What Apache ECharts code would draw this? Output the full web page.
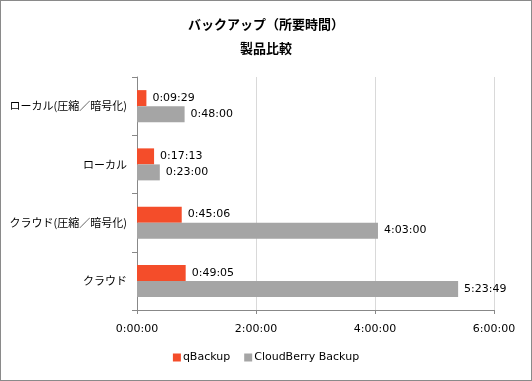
<!DOCTYPE html>
<html>
<head>
<meta charset="utf-8">
<script src="https://cdn.jsdelivr.net/npm/echarts@6/dist/echarts.min.js"></script>
<style>
  html, body { margin: 0; padding: 0; background: #fff; }
  #chart { width: 532px; height: 381px; box-sizing: border-box; border: 1px solid #8a8a8a; }
</style>
</head>
<body>
<div id="chart"></div>
<script>
// categories top to bottom
var categories = ['ローカル(圧縮／暗号化)', 'ローカル', 'クラウド(圧縮／暗号化)', 'クラウド'];
// durations in seconds
var qBackup = [569, 1033, 2706, 2945];          // 0:09:29, 0:17:13, 0:45:06, 0:49:05
var cloudBerry = [2880, 1380, 14580, 19429];    // 0:48:00, 0:23:00, 4:03:00, 5:23:49
var seriesNames = ['qBackup', 'CloudBerry Backup'];

function fmt(sec) {
  var h = Math.floor(sec / 3600);
  var m = Math.floor((sec % 3600) / 60);
  var s = Math.round(sec % 60);
  return h + ':' + (m < 10 ? '0' : '') + m + ':' + (s < 10 ? '0' : '') + s;
}

var jp = '"Noto Sans CJK JP", "DejaVu Sans", sans-serif';
var num = '"DejaVu Sans", Verdana, sans-serif';

var myChart = echarts.init(document.getElementById('chart'), null, { renderer: 'canvas' });

var option = {
  animation: false,
  title: [
    { text: 'バックアップ（所要時間）', left: 'center', top: 12,
      textStyle: { fontFamily: jp, fontSize: 13, fontWeight: 'bold', color: '#000' } },
    { text: '製品比較', left: 'center', top: 36,
      textStyle: { fontFamily: jp, fontSize: 13, fontWeight: 'bold', color: '#000' } }
  ],
  legend: {
    bottom: 12,
    left: 'center',
    itemWidth: 8,
    itemHeight: 8,
    itemGap: 14,
    icon: 'rect',
    textStyle: { fontFamily: num, fontSize: 11, color: '#000', padding: [0, 0, 0, -3] },
    data: seriesNames
  },
  grid: { left: 136, right: 37, top: 76, bottom: 70, containLabel: false },
  xAxis: {
    type: 'value',
    min: 0,
    max: 21600,
    interval: 7200,
    axisLine: { show: true, lineStyle: { color: '#888' } },
    axisTick: { show: true, length: 4, lineStyle: { color: '#888' } },
    splitLine: { lineStyle: { color: '#d9d9d9' } },
    axisLabel: { formatter: fmt, fontFamily: num, fontSize: 11, color: '#000', margin: 14 }
  },
  yAxis: {
    type: 'category',
    inverse: true,
    data: categories,
    axisLine: { show: true, lineStyle: { color: '#888' } },
    axisTick: { show: true, length: 5, lineStyle: { color: '#888' } },
    axisLabel: { fontFamily: jp, fontSize: 11, color: '#000', margin: 10 }
  },
  series: [
    {
      name: seriesNames[0],
      type: 'bar',
      data: qBackup,
      barWidth: 16,
      barGap: '0%',
      itemStyle: { color: '#f44d2a' },
      label: { show: true, position: 'right', distance: 6, formatter: function (p) { return fmt(p.value); },
        fontFamily: num, fontSize: 11, color: '#000' }
    },
    {
      name: seriesNames[1],
      type: 'bar',
      data: cloudBerry,
      barWidth: 16,
      barGap: '0%',
      itemStyle: { color: '#a5a5a5' },
      label: { show: true, position: 'right', distance: 6, formatter: function (p) { return fmt(p.value); },
        fontFamily: num, fontSize: 11, color: '#000' }
    }
  ]
};

myChart.setOption(option);
window.addEventListener('resize', myChart.resize);
</script>
</body>
</html>
